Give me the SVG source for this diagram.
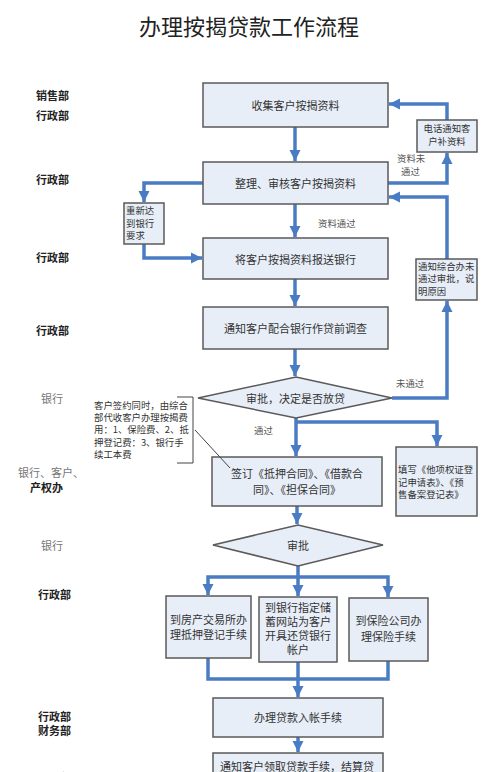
<svg xmlns="http://www.w3.org/2000/svg" width="500" height="772" viewBox="0 0 500 772">
<style>
text{font-family:"Noto Sans CJK SC","Noto Sans",sans-serif;}
.title{font-size:22px;fill:#222;text-anchor:middle;}
.box{fill:#e8eef8;stroke:#5a5a5a;stroke-width:1.5;}
.t{font-size:11px;fill:#333;text-anchor:middle;dominant-baseline:central;}
.s{font-size:9.4px;fill:#333;dominant-baseline:central;}
.sc{font-size:9.4px;fill:#333;text-anchor:middle;dominant-baseline:central;}
.lbl{font-size:9.4px;fill:#555;dominant-baseline:central;}
.dept{font-size:11px;fill:#222;font-weight:bold;dominant-baseline:central;}
.bank{font-size:11px;fill:#777;dominant-baseline:central;}
.c{fill:none;stroke:#4a7cc4;stroke-width:3.5;stroke-linejoin:miter;}
.thin{fill:none;stroke:#444;stroke-width:1;}
</style>
<defs>
<marker id="ah" markerUnits="userSpaceOnUse" markerWidth="12" markerHeight="12" refX="11" refY="6" orient="auto">
<path d="M0,0.5 L11,6 L0,11.5 z" fill="#4a7cc4"/>
</marker>
</defs>
<rect width="500" height="772" fill="#fff"/>
<text class="title" x="249" y="35">办理按揭贷款工作流程</text>

<g id="depts">
<text class="dept" x="36" y="95">销售部</text>
<text class="dept" x="36" y="115">行政部</text>
<text class="dept" x="36" y="179">行政部</text>
<text class="dept" x="36" y="257">行政部</text>
<text class="dept" x="36" y="330">行政部</text>
<text class="bank" x="41" y="398">银行</text>
<text class="bank" x="18" y="472">银行、客户、</text>
<text class="dept" x="30" y="487">产权办</text>
<text class="bank" x="41" y="545">银行</text>
<text class="dept" x="38" y="594">行政部</text>
<text class="dept" x="38" y="716">行政部</text>
<text class="dept" x="38" y="730">财务部</text>
<text class="dept" x="38" y="777">行政部</text>
</g>

<g id="connectors">
<path class="c" d="M295,127 V161" marker-end="url(#ah)"/>
<path class="c" d="M388,183 H447 V153" marker-end="url(#ah)"/>
<path class="c" d="M447,120 V104 H389" marker-end="url(#ah)"/>
<path class="c" d="M203,183 H144 V202" marker-end="url(#ah)"/>
<path class="c" d="M144,244 V258 H202" marker-end="url(#ah)"/>
<path class="c" d="M295,204 V237" marker-end="url(#ah)"/>
<path class="c" d="M447,259 V197 H389" marker-end="url(#ah)"/>
<path class="c" d="M295,279 V306" marker-end="url(#ah)"/>
<path class="c" d="M295,349 V376" marker-end="url(#ah)"/>
<path class="c" d="M392,398 H447 V301" marker-end="url(#ah)"/>
<path class="c" d="M296,418 V456" marker-end="url(#ah)"/>
<path class="c" d="M296,422 H437 V446" marker-end="url(#ah)"/>
<path class="c" d="M297,506 V524" marker-end="url(#ah)"/>
<path class="c" d="M298,566 V596" marker-end="url(#ah)"/>
<path class="c" d="M298,577 H208 V595" marker-end="url(#ah)"/>
<path class="c" d="M298,577 H388 V597" marker-end="url(#ah)"/>
<path class="c" d="M208,658 V679 H388 V661"/>
<path class="c" d="M298,662 V697" marker-end="url(#ah)"/>
<path class="c" d="M298,737 V752" marker-end="url(#ah)"/>
<text class="lbl" x="397" y="158">资料未</text>
<text class="lbl" x="401" y="171">通过</text>
<text class="lbl" x="318" y="223">资料通过</text>
<text class="lbl" x="396" y="383">未通过</text>
<text class="lbl" x="254" y="430">通过</text>
</g>

<g id="n1"><rect class="box" x="203" y="83" width="185" height="44"/><text class="t" x="295.5" y="105">收集客户按揭资料</text></g>
<g id="n2"><rect class="box" x="203" y="162" width="185" height="42"/><text class="t" x="295.5" y="183">整理、审核客户按揭资料</text></g>
<g id="n3"><rect class="box" x="203" y="238" width="185" height="41"/><text class="t" x="295.5" y="258.5">将客户按揭资料报送银行</text></g>
<g id="n4"><rect class="box" x="203" y="307" width="185" height="42"/><text class="t" x="295.5" y="328">通知客户配合银行作贷前调查</text></g>
<g id="d1"><polygon class="box" points="198,398 296,377 392,398 296,418"/><text class="t" x="295.5" y="398">审批，决定是否放贷</text></g>
<g id="n5"><rect class="box" x="212" y="457" width="170" height="49"/><text class="t" x="297" y="473">签订《抵押合同》、《借款合</text><text class="t" x="297" y="489">同》、《担保合同》</text></g>
<g id="n6"><rect class="box" x="396" y="447" width="81" height="69"/><text class="s" x="398" y="469">填写《他项权证登</text><text class="s" x="398" y="482">记申请表》、《预</text><text class="s" x="398" y="494">售备案登记表》</text></g>
<g id="d2"><polygon class="box" points="213,545 298,525 383,545 298,566"/><text class="t" x="298" y="545">审批</text></g>
<g id="n7"><rect class="box" x="166" y="596" width="85" height="62"/><text class="t" x="208.5" y="619">到房产交易所办</text><text class="t" x="208.5" y="634">理抵押登记手续</text></g>
<g id="n8"><rect class="box" x="259" y="597" width="78" height="65"/><text class="t" x="298" y="607">到银行指定储</text><text class="t" x="298" y="621">蓄网站为客户</text><text class="t" x="298" y="635">开具还贷银行</text><text class="t" x="298" y="649">帐户</text></g>
<g id="n9"><rect class="box" x="349" y="598" width="79" height="63"/><text class="t" x="388.5" y="620">到保险公司办</text><text class="t" x="388.5" y="636">理保险手续</text></g>
<g id="n10"><rect class="box" x="213" y="698" width="170" height="39"/><text class="t" x="298" y="717">办理贷款入帐手续</text></g>
<g id="n11"><rect class="box" x="213" y="753" width="170" height="40"/><text class="t" x="297" y="766">通知客户领取贷款手续，结算贷</text></g>
<g id="n_phone"><rect class="box" x="417" y="120" width="60" height="32"/><text class="sc" x="447" y="128">电话通知客</text><text class="sc" x="447" y="141">户补资料</text></g>
<g id="n_redo"><rect class="box" x="124" y="203" width="40" height="41"/><text class="s" x="126" y="210">重新达</text><text class="s" x="126" y="223">到银行</text><text class="s" x="126" y="235">要求</text></g>
<g id="n_notify"><rect class="box" x="416" y="259" width="61" height="41"/><text class="s" x="418" y="266">通知综合办未</text><text class="s" x="418" y="278">通过审批，说</text><text class="s" x="418" y="291">明原因</text></g>
<g id="note">
<path class="thin" d="M177,397 H193 V463 H177"/>
<path class="thin" d="M195,430 L230,468"/>
<text class="s" x="94" y="405">客户签约同时，由综合</text>
<text class="s" x="94" y="417">部代收客户办理按揭费</text>
<text class="s" x="94" y="429">用：1、保险费、2、抵</text>
<text class="s" x="94" y="442">押登记费：3、银行手</text>
<text class="s" x="94" y="454">续工本费</text>
</g>
</svg>
